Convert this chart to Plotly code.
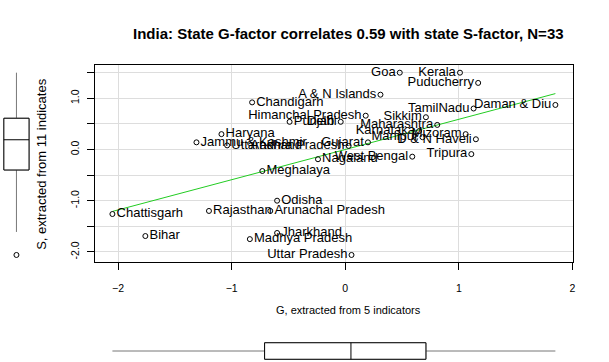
import plotly.graph_objects as go

W, H = 609, 362

states = ["Goa", "Kerala", "Puducherry", "A & N Islands", "Chandigarh", "Himanchal Pradesh",
          "Punjab", "Delhi", "Sikkim", "TamilNadu", "Daman & Diu", "Maharashtra", "Karnataka",
          "Manipur", "Mizoram", "D & N Haveli", "Gujarat", "West Bengal", "Tripura", "Nagaland",
          "Haryana", "Jammu & Kashmir", "Uttarakhand", "Andhra Pradesh", "Meghalaya", "Odisha",
          "Arunachal Pradesh", "Rajasthan", "Chattisgarh", "Bihar", "Jharkhand", "Madhya Pradesh",
          "Uttar Pradesh"]
G = [0.48, 1.01, 1.17, 0.31, -0.82, 0.18,
     -0.49, -0.04, 0.71, 1.13, 1.85, 0.81, 0.65,
     0.68, 1.06, 1.15, 0.20, 0.59, 1.11, -0.24,
     -1.09, -1.31, -1.04, 0.03, -0.73, -0.60,
     -0.66, -1.20, -2.05, -1.76, -0.60, -0.84,
     0.055]
S = [1.50, 1.50, 1.30, 1.07, 0.92, 0.66,
     0.54, 0.54, 0.63, 0.80, 0.87, 0.48, 0.36,
     0.24, 0.30, 0.20, 0.14, -0.14, -0.09, -0.19,
     0.30, 0.14, 0.08, 0.07, -0.42, -1.00,
     -1.20, -1.20, -1.26, -1.69, -1.63, -1.75,
     -2.06]
label_side = ["L", "L", "L", "L", "R", "L",
              "R", "L", "L", "L", "L", "L", "L",
              "L", "L", "L", "L", "L", "L", "R",
              "R", "R", "R", "L", "R", "R",
              "R", "R", "R", "R", "R", "R",
              "L"]

# regression line
slope, intercept = 0.59, 0.0

# marginal boxplot statistics
S_box = dict(q1=-0.40, median=0.19, q3=0.61, lo=-1.61, hi=1.50)
S_outliers = [-2.06]
G_box = dict(q1=-0.71, median=0.05, q3=0.71, lo=-2.05, hi=1.85)

x_ticks = [-2, -1, 0, 1, 2]
y_ticks = [-2.0, -1.5, -1.0, -0.5, 0.0, 0.5, 1.0, 1.5]
y_ticktext = ["-2.0", "", "-1.0", "", "0.0", "", "1.0", ""]

title = "India: State G-factor correlates 0.59 with state S-factor, N=33"
xlab = "G, extracted from 5 indicators"
ylab = "S, extracted from 11 indicates"

FONT = "Liberation Sans, Arial, Helvetica, sans-serif"
xr = [-2.206, 2.006]
yr = [-2.197, 1.65]

fig = go.Figure()

# regression line
gmin, gmax = min(G), max(G)
fig.add_trace(go.Scatter(x=[gmin, gmax], y=[slope * gmin + intercept, slope * gmax + intercept],
                         mode="lines", line=dict(color="#22cc22", width=1),
                         hoverinfo="skip", showlegend=False))

pos = ["middle left" if s == "L" else "middle right" for s in label_side]
fig.add_trace(go.Scatter(x=G, y=S, mode="markers+text", text=states, textposition=pos,
                         textfont=dict(family=FONT, size=13, color="black"),
                         marker=dict(symbol="circle-open", size=5, color="black",
                                     line=dict(width=1, color="black")),
                         showlegend=False))

# left box (S)
for col, lo, hi in [("#777777", S_box["lo"], S_box["hi"]), ("black", S_box["q1"], S_box["q3"])]:
    fig.add_trace(go.Box(x=[0], q1=[S_box["q1"]], median=[S_box["median"]], q3=[S_box["q3"]],
                         lowerfence=[lo], upperfence=[hi], width=0.87, whiskerwidth=0,
                         fillcolor="white", line=dict(color=col, width=1), boxpoints=False,
                         xaxis="x3", yaxis="y3", showlegend=False, hoverinfo="skip"))
fig.add_trace(go.Scatter(x=[0] * len(S_outliers), y=S_outliers, mode="markers",
                         marker=dict(symbol="circle-open", size=5, color="black",
                                     line=dict(width=1, color="black")),
                         xaxis="x3", yaxis="y3", showlegend=False))

# bottom box (G)
for col, lo, hi in [("#777777", G_box["lo"], G_box["hi"]), ("black", G_box["q1"], G_box["q3"])]:
    fig.add_trace(go.Box(y=[0], q1=[G_box["q1"]], median=[G_box["median"]], q3=[G_box["q3"]],
                         lowerfence=[lo], upperfence=[hi], width=0.75, whiskerwidth=0,
                         orientation="h",
                         fillcolor="white", line=dict(color=col, width=1), boxpoints=False,
                         xaxis="x4", yaxis="y4", showlegend=False, hoverinfo="skip"))

dx = [95 / W, 575 / W]
dy = [100 / H, 297 / H]

fig.update_layout(
    width=W, height=H, autosize=False,
    margin=dict(l=0, r=0, t=0, b=0),
    paper_bgcolor="white", plot_bgcolor="white",
    font=dict(family=FONT, size=13, color="black"),
    xaxis=dict(domain=dx, range=xr, anchor="y", tickvals=x_ticks, ticks="outside", ticklen=7,
               tickcolor="black", showline=True, mirror=True, linecolor="black", linewidth=1,
               showgrid=True, gridcolor="#dddddd", zeroline=False, ticklabelstandoff=9,
               tickfont=dict(size=10.5)),
    yaxis=dict(domain=dy, range=yr, anchor="x", tickvals=y_ticks, ticktext=y_ticktext,
               tickangle=-90, ticks="outside", ticklen=7, tickcolor="black",
               showline=True, mirror=True, linecolor="black", linewidth=1,
               showgrid=True, gridcolor="#dddddd", zeroline=False, ticklabelstandoff=4,
               tickfont=dict(size=10.5)),
    xaxis3=dict(domain=[2 / W, 31 / W], range=[-0.5, 0.5], anchor="y3", visible=False),
    yaxis3=dict(domain=dy, range=yr, anchor="x3", visible=False),
    xaxis4=dict(domain=dx, range=xr, anchor="y4", visible=False),
    yaxis4=dict(domain=[0, 22 / H], range=[-0.5, 0.5], anchor="x4", visible=False),
    annotations=[
        dict(text="<b>" + title + "</b>", x=350 / W, y=1 - 33 / H, xref="paper", yref="paper",
             showarrow=False, xanchor="center", yanchor="middle", font=dict(size=15)),
        dict(text=xlab, x=350 / W, y=1 - 310 / H, xref="paper", yref="paper",
             showarrow=False, xanchor="center", yanchor="middle", font=dict(size=11)),
        dict(text=ylab, x=42 / W, y=1 - 164 / H, xref="paper", yref="paper", textangle=-90,
             showarrow=False, xanchor="center", yanchor="middle", font=dict(size=13)),
    ],
)

fig.write_html("out.html", config={"displayModeBar": False},
               post_script="document.body.style.margin='0px';")
